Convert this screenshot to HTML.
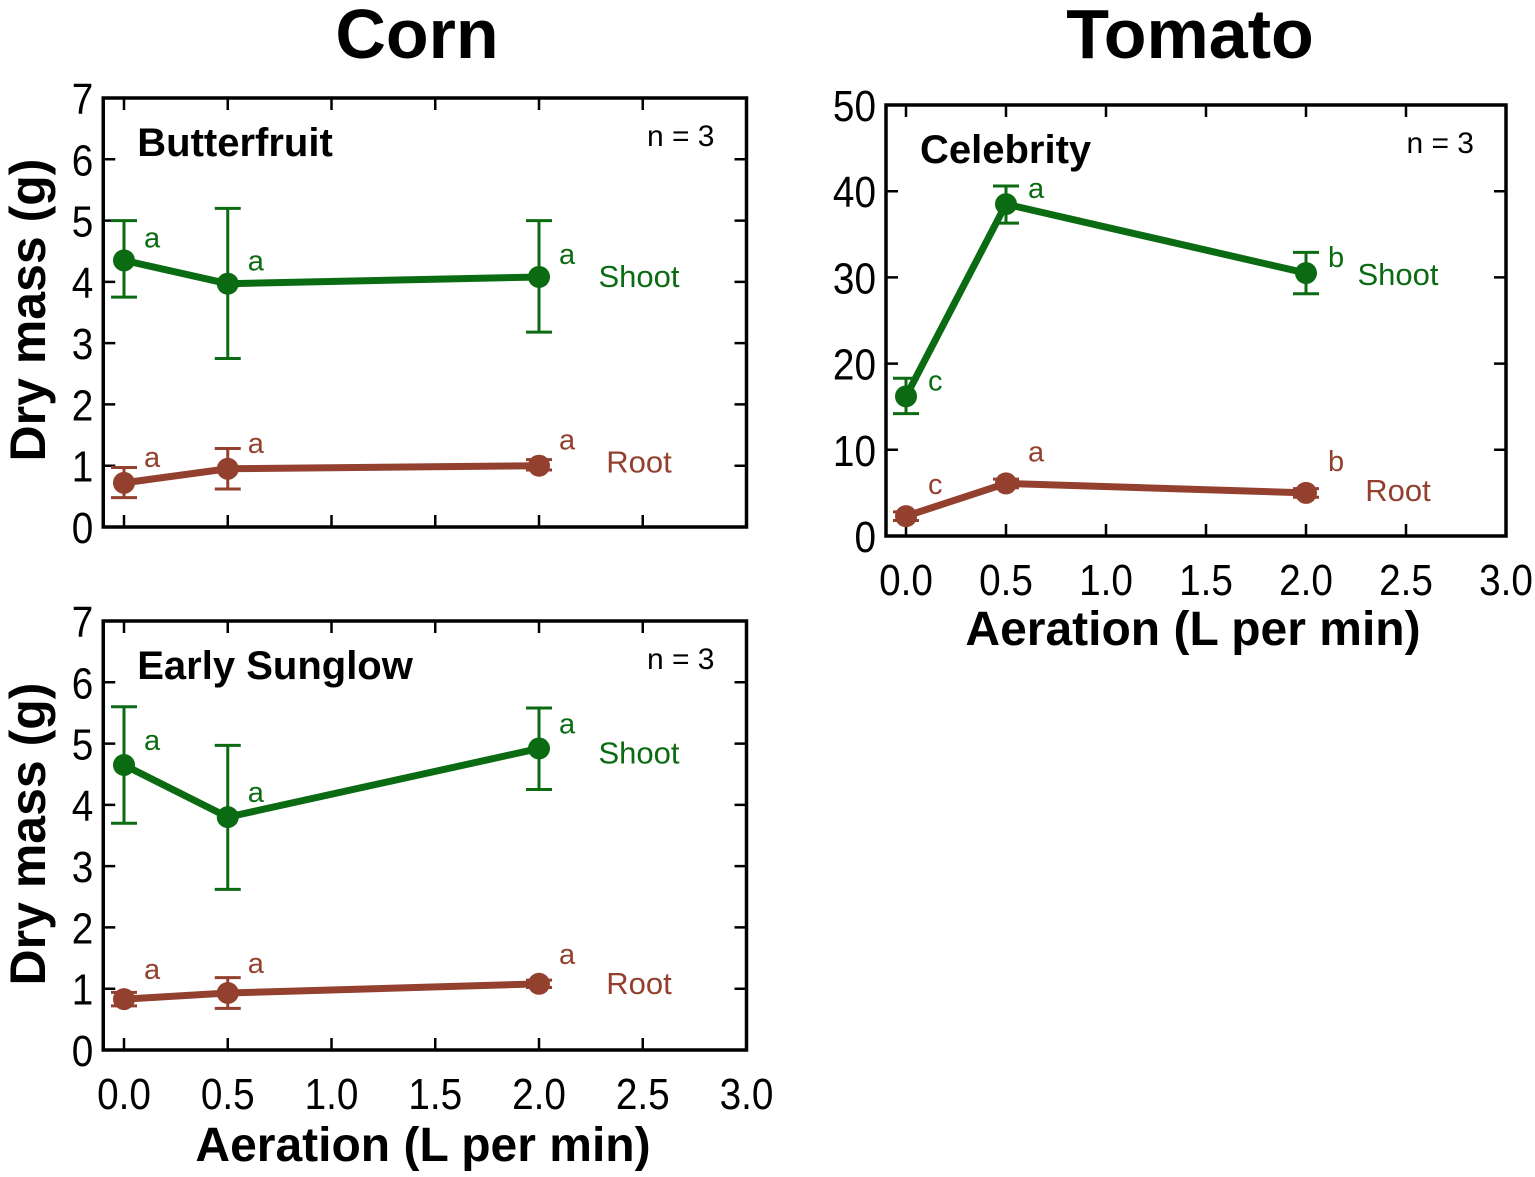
<!DOCTYPE html>
<html><head><meta charset="utf-8"><style>
html,body{margin:0;padding:0;background:#fff;}
svg{display:block;font-family:"Liberation Sans",sans-serif;}
</style></head><body>
<svg id="fig" width="1535" height="1177" viewBox="0 0 1535 1177" xmlns="http://www.w3.org/2000/svg">
<text x="417" y="58" font-size="70" font-weight="bold" text-anchor="middle">Corn</text>
<text x="1190" y="58" font-size="70" font-weight="bold" text-anchor="middle">Tomato</text>
</svg>
<script>
const xCats = [0, 0.5, 2.0];
const xTicks = [0, 0.5, 1.0, 1.5, 2.0, 2.5, 3.0];
const xTickLabels = ["0.0","0.5","1.0","1.5","2.0","2.5","3.0"];
const cornTicks = [0,1,2,3,4,5,6,7];
const tomTicks = [0,10,20,30,40,50];

const bfShoot = [4.35, 3.97, 4.08];
const bfShootLo = [3.75, 2.75, 3.18];
const bfShootHi = [5.0, 5.2, 5.0];
const bfRoot = [0.72, 0.95, 1.0];
const bfRootLo = [0.48, 0.62, 0.93];
const bfRootHi = [0.97, 1.28, 1.1];
const bfShootLetters = ["a","a","a"];
const bfRootLetters = ["a","a","a"];

const esShoot = [4.65, 3.80, 4.92];
const esShootLo = [3.70, 2.62, 4.25];
const esShootHi = [5.60, 4.97, 5.58];
const esRoot = [0.83, 0.93, 1.08];
const esRootLo = [0.72, 0.68, 1.02];
const esRootHi = [0.94, 1.18, 1.14];
const esShootLetters = ["a","a","a"];
const esRootLetters = ["a","a","a"];

const ceShoot = [16.2, 38.5, 30.5];
const ceShootLo = [14.2, 36.3, 28.1];
const ceShootHi = [18.3, 40.6, 32.9];
const ceRoot = [2.3, 6.1, 5.0];
const ceRootLo = [1.8, 5.6, 4.5];
const ceRootHi = [2.8, 6.6, 5.5];
const ceShootLetters = ["c","a","b"];
const ceRootLetters = ["c","a","b"];

const GREEN = "#0b6b12", BROWN = "#93402f";
const NS = "http://www.w3.org/2000/svg";
const svg = document.getElementById("fig");
function mk(tag, attrs, parent){
  const e = document.createElementNS(NS, tag);
  for (const k in attrs) e.setAttribute(k, attrs[k]);
  (parent||svg).appendChild(e); return e;
}

function panel(cfg){
  const g = mk("g", {});
  
  
  const X = v => cfg.x0 + v*cfg.xu;
  const Y = v => cfg.yb - (v - 0)/(cfg.ymax)*(cfg.yb - cfg.yt);
  const L = X(-0.1), R = X(3.0);
  const fr = mk("rect", {x:L, y:cfg.yt, width:R-L, height:cfg.yb-cfg.yt, fill:"none", stroke:"#000", "stroke-width":3.5}, g);
  
  
  xTicks.forEach((t,i)=>{
    const tk = mk("path", {d:`M${X(t)},${cfg.yb}v-12M${X(t)},${cfg.yt}v12`, stroke:"#000", "stroke-width":2.5}, g);
    
    
    if (cfg.xlabels){
      const tl = mk("text", {x:X(t), y:cfg.yb+59, "font-size":44, "text-anchor":"middle", transform:`translate(${X(t)},0) scale(0.88,1) translate(${-X(t)},0)`}, g);
      tl.textContent = xTickLabels[i];
      
      
    }
  });
  cfg.yticks.forEach(t=>{
    const tk = mk("path", {d:`M${L},${Y(t)}h12M${R},${Y(t)}h-12`, stroke:"#000", "stroke-width":2.5}, g);
    
    
    const tl = mk("text", {x:L-10, y:Y(t)+16, "font-size":44, "text-anchor":"end", transform:`translate(${L-10},0) scale(0.88,1) translate(${-(L-10)},0)`}, g);
    tl.textContent = String(t);
    
    
  });
  const tt = mk("text", {x:L+34, y:cfg.yt+58, "font-size":40, "font-weight":"bold"}, g);
  tt.textContent = cfg.title;
  
  
  const nn = mk("text", {x:R-32, y:cfg.yt+48, "font-size":30, "text-anchor":"end"}, g);
  nn.textContent = "n = 3";
  
  

  cfg.series.forEach(s=>{
    const sg = mk("g", {}, g);
    
    
    const pts = xCats.map((c,i)=>`${X(c)},${Y(s.v[i])}`).join(" ");
    const ln = mk("polyline", {points:pts, fill:"none", stroke:s.col, "stroke-width":s.w, "stroke-linejoin":"round"}, sg);
    
    
    xCats.forEach((c,i)=>{
      const x = X(c);
      const eb = mk("path", {d:`M${x},${Y(s.lo[i])}V${Y(s.hi[i])}M${x-13},${Y(s.lo[i])}h26M${x-13},${Y(s.hi[i])}h26`, stroke:s.col, "stroke-width":3, fill:"none"}, sg);
      
      
      const pt = mk("circle", {cx:x, cy:Y(s.v[i]), r:11, fill:s.col}, sg);
      
      
      const lt = mk("text", {x:x+s.lx, y:Y(s.v[i])+s.ly, "font-size":29, fill:s.col}, sg);
      lt.textContent = s.letters[i];
      
      
    });
    const lab = mk("text", {x:s.labx, y:Y(s.v[2])+s.laby, "font-size":31, fill:s.col, "text-anchor":"middle"}, sg);
    lab.textContent = s.label;
    
    
  });
}

panel({name:"butterfruit-panel", title:"Butterfruit", x0:124, xu:207.5, yt:98, yb:527, ymax:7, yticks:cornTicks, xlabels:false,
  series:[
   {name:"shoot-series", label:"Shoot", col:GREEN, w:7, v:bfShoot, lo:bfShootLo, hi:bfShootHi, letters:bfShootLetters, lx:20, ly:-13, labx:639, laby:10},
   {name:"root-series", label:"Root", col:BROWN, w:7, v:bfRoot, lo:bfRootLo, hi:bfRootHi, letters:bfRootLetters, lx:20, ly:-16, labx:639, laby:7}
  ]});
panel({name:"early-sunglow-panel", title:"Early Sunglow", x0:124, xu:207.5, yt:621, yb:1050, ymax:7, yticks:cornTicks, xlabels:true,
  series:[
   {name:"shoot-series", label:"Shoot", col:GREEN, w:7, v:esShoot, lo:esShootLo, hi:esShootHi, letters:esShootLetters, lx:20, ly:-15, labx:639, laby:15},
   {name:"root-series", label:"Root", col:BROWN, w:7, v:esRoot, lo:esRootLo, hi:esRootHi, letters:esRootLetters, lx:20, ly:-20, labx:639, laby:10}
  ]});
panel({name:"celebrity-panel", title:"Celebrity", x0:906, xu:200, yt:105, yb:536, ymax:50, yticks:tomTicks, xlabels:true,
  series:[
   {name:"shoot-series", label:"Shoot", col:GREEN, w:7, v:ceShoot, lo:ceShootLo, hi:ceShootHi, letters:ceShootLetters, lx:22, ly:-6, labx:1398, laby:12},
   {name:"root-series", label:"Root", col:BROWN, w:7, v:ceRoot, lo:ceRootLo, hi:ceRootHi, letters:ceRootLetters, lx:22, ly:-22, labx:1398, laby:8}
  ]});

function addText(name, x, y, size, txt, rot){
  const t = mk("text", {x:x, y:y, "font-size":size, "font-weight":"bold", "text-anchor":"middle"});
  if (rot) t.setAttribute("transform", `rotate(-90 ${x} ${y})`);
  t.textContent = txt;
  
  
}
addText("y-axis-title-butterfruit", 45, 310, 50, "Dry mass (g)", true);
addText("y-axis-title-early-sunglow", 45, 834, 50, "Dry mass (g)", true);
addText("x-axis-title-corn", 423, 1161, 48, "Aeration (L per min)", false);
addText("x-axis-title-tomato", 1193, 645, 48, "Aeration (L per min)", false);
</script>
</body></html>
